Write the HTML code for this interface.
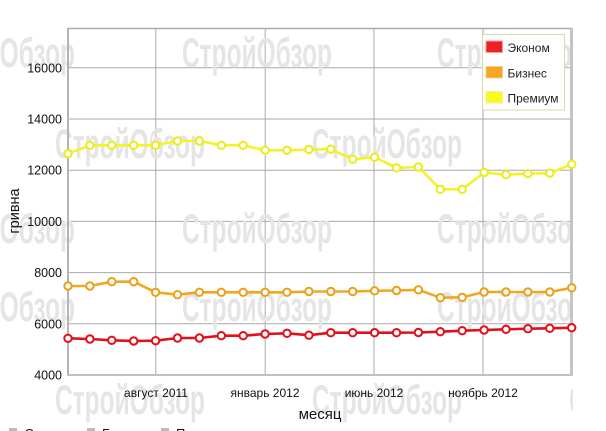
<!DOCTYPE html>
<html><head><meta charset="utf-8"><style>
html,body{margin:0;padding:0;background:#fff;width:606px;height:431px;overflow:hidden}
svg{display:block}
text{font-family:"Liberation Sans",Arial,sans-serif}
</style></head><body>
<svg width="606" height="431" viewBox="0 0 606 431" xmlns="http://www.w3.org/2000/svg">
<defs><clipPath id="wc"><rect x="0" y="0" width="573" height="431"/></clipPath></defs>
<rect width="606" height="431" fill="#fff"/>
<!-- grid -->
<g stroke="#aaaaaa" stroke-width="1">
<line x1="68" y1="323.8" x2="571" y2="323.8"/>
<line x1="68" y1="272.6" x2="571" y2="272.6"/>
<line x1="68" y1="221.4" x2="571" y2="221.4"/>
<line x1="68" y1="170.2" x2="571" y2="170.2"/>
<line x1="68" y1="119" x2="571" y2="119"/>
<line x1="68" y1="67.8" x2="571" y2="67.8"/>
<line x1="155.8" y1="28" x2="155.8" y2="375"/>
<line x1="265.2" y1="28" x2="265.2" y2="375"/>
<line x1="374" y1="28" x2="374" y2="375"/>
<line x1="483" y1="28" x2="483" y2="375"/>
</g>
<!-- watermarks -->
<g clip-path="url(#wc)" fill="#e5e5e5" font-weight="bold" font-size="42">
<text x="-75" y="67" textLength="150" lengthAdjust="spacingAndGlyphs">СтройОбзор</text>
<text x="182" y="67" textLength="150" lengthAdjust="spacingAndGlyphs">СтройОбзор</text>
<text x="437" y="67" textLength="150" lengthAdjust="spacingAndGlyphs">СтройОбзор</text>
<text x="55" y="158" textLength="150" lengthAdjust="spacingAndGlyphs">СтройОбзор</text>
<text x="312" y="158" textLength="150" lengthAdjust="spacingAndGlyphs">СтройОбзор</text>
<text x="569" y="158" textLength="150" lengthAdjust="spacingAndGlyphs">СтройОбзор</text>
<text x="-75" y="243" textLength="150" lengthAdjust="spacingAndGlyphs">СтройОбзор</text>
<text x="182" y="243" textLength="150" lengthAdjust="spacingAndGlyphs">СтройОбзор</text>
<text x="437" y="243" textLength="150" lengthAdjust="spacingAndGlyphs">СтройОбзор</text>
<text x="-75" y="321" textLength="150" lengthAdjust="spacingAndGlyphs">СтройОбзор</text>
<text x="182" y="321" textLength="150" lengthAdjust="spacingAndGlyphs">СтройОбзор</text>
<text x="437" y="321" textLength="150" lengthAdjust="spacingAndGlyphs">СтройОбзор</text>
<text x="55" y="414" textLength="150" lengthAdjust="spacingAndGlyphs">СтройОбзор</text>
<text x="312" y="414" textLength="150" lengthAdjust="spacingAndGlyphs">СтройОбзор</text>
<text x="569" y="414" textLength="150" lengthAdjust="spacingAndGlyphs">СтройОбзор</text>
</g>
<!-- frame -->
<line x1="68" y1="28.5" x2="572" y2="28.5" stroke="#aaaaaa" stroke-width="1.5"/>
<line x1="68" y1="28" x2="68" y2="376" stroke="#b4b4b4" stroke-width="2"/>
<line x1="67" y1="375" x2="573" y2="375" stroke="#c0c0c0" stroke-width="2"/>
<line x1="571.5" y1="28" x2="571.5" y2="376" stroke="#c4c4c4" stroke-width="3"/>
<!-- y ticks -->
<g font-size="12.5" fill="#111" text-anchor="end">
<text x="62" y="379.5">4000</text>
<text x="62" y="328.3">6000</text>
<text x="62" y="277.1">8000</text>
<text x="62" y="225.9">10000</text>
<text x="62" y="174.7">12000</text>
<text x="62" y="123.5">14000</text>
<text x="62" y="72.3">16000</text>
</g>
<g font-size="12" fill="#111" text-anchor="middle">
<text x="156" y="397">август 2011</text>
<text x="265" y="397">январь 2012</text>
<text x="374" y="397">июнь 2012</text>
<text x="483" y="397">ноябрь 2012</text>
</g>
<text x="320" y="419" font-size="15" fill="#111" text-anchor="middle">месяц</text>
<text transform="translate(19,211) rotate(-90)" font-size="14.5" fill="#111" text-anchor="middle">гривна</text>
<!-- series -->
<g fill="none" stroke-width="2.6" stroke-linejoin="round">
<polyline stroke="#f3f32a" points="68,153.7 89.9,145.3 111.8,145.3 133.7,145.3 155.6,145.3 177.5,141 199.4,141 221.3,145.3 243.2,145.3 265.1,150.3 287,150.3 308.9,149.5 330.8,149.2 352.7,159.3 374.6,157.2 396.5,167.8 418.4,167 440.3,189.3 462.2,189.3 484.1,172.5 506,174.7 527.9,173.6 549.8,173.2 571.7,164.3"/>
<polyline stroke="#f0a820" points="68,286 89.9,286 111.8,281.7 133.7,281.7 155.6,292.3 177.5,294.7 199.4,292.3 221.3,292.3 243.2,292.3 265.1,292.3 287,292.3 308.9,291.5 330.8,291.5 352.7,291.5 374.6,290.8 396.5,290.5 418.4,289.8 440.3,297.7 462.2,297.3 484.1,292 506,292 527.9,292 549.8,292 571.7,287.8"/>
<polyline stroke="#e2101a" points="68,338.3 89.9,339 111.8,340.3 133.7,341 155.6,340.7 177.5,338 199.4,338 221.3,335.7 243.2,335.7 265.1,334 287,333.3 308.9,335.2 330.8,332.7 352.7,332.7 374.6,332.7 396.5,332.7 418.4,332.5 440.3,331.7 462.2,330.7 484.1,330 506,329.3 527.9,328.7 549.8,328.3 571.7,327.7"/>
</g>
<g fill="#fff" stroke-width="2" stroke="#ecec1c">
<circle cx="68" cy="153.7" r="3.7"/><circle cx="89.9" cy="145.3" r="3.7"/><circle cx="111.8" cy="145.3" r="3.7"/><circle cx="133.7" cy="145.3" r="3.7"/><circle cx="155.6" cy="145.3" r="3.7"/><circle cx="177.5" cy="141" r="3.7"/><circle cx="199.4" cy="141" r="3.7"/><circle cx="221.3" cy="145.3" r="3.7"/><circle cx="243.2" cy="145.3" r="3.7"/><circle cx="265.1" cy="150.3" r="3.7"/><circle cx="287" cy="150.3" r="3.7"/><circle cx="308.9" cy="149.5" r="3.7"/><circle cx="330.8" cy="149.2" r="3.7"/><circle cx="352.7" cy="159.3" r="3.7"/><circle cx="374.6" cy="157.2" r="3.7"/><circle cx="396.5" cy="167.8" r="3.7"/><circle cx="418.4" cy="167" r="3.7"/><circle cx="440.3" cy="189.3" r="3.7"/><circle cx="462.2" cy="189.3" r="3.7"/><circle cx="484.1" cy="172.5" r="3.7"/><circle cx="506" cy="174.7" r="3.7"/><circle cx="527.9" cy="173.6" r="3.7"/><circle cx="549.8" cy="173.2" r="3.7"/><circle cx="571.7" cy="164.3" r="3.7"/>
</g>
<g fill="#fff" stroke-width="2" stroke="#eca01a">
<circle cx="68" cy="286" r="3.7"/><circle cx="89.9" cy="286" r="3.7"/><circle cx="111.8" cy="281.7" r="3.7"/><circle cx="133.7" cy="281.7" r="3.7"/><circle cx="155.6" cy="292.3" r="3.7"/><circle cx="177.5" cy="294.7" r="3.7"/><circle cx="199.4" cy="292.3" r="3.7"/><circle cx="221.3" cy="292.3" r="3.7"/><circle cx="243.2" cy="292.3" r="3.7"/><circle cx="265.1" cy="292.3" r="3.7"/><circle cx="287" cy="292.3" r="3.7"/><circle cx="308.9" cy="291.5" r="3.7"/><circle cx="330.8" cy="291.5" r="3.7"/><circle cx="352.7" cy="291.5" r="3.7"/><circle cx="374.6" cy="290.8" r="3.7"/><circle cx="396.5" cy="290.5" r="3.7"/><circle cx="418.4" cy="289.8" r="3.7"/><circle cx="440.3" cy="297.7" r="3.7"/><circle cx="462.2" cy="297.3" r="3.7"/><circle cx="484.1" cy="292" r="3.7"/><circle cx="506" cy="292" r="3.7"/><circle cx="527.9" cy="292" r="3.7"/><circle cx="549.8" cy="292" r="3.7"/><circle cx="571.7" cy="287.8" r="3.7"/>
</g>
<g fill="#fff" stroke-width="2" stroke="#e0101a">
<circle cx="68" cy="338.3" r="3.7"/><circle cx="89.9" cy="339" r="3.7"/><circle cx="111.8" cy="340.3" r="3.7"/><circle cx="133.7" cy="341" r="3.7"/><circle cx="155.6" cy="340.7" r="3.7"/><circle cx="177.5" cy="338" r="3.7"/><circle cx="199.4" cy="338" r="3.7"/><circle cx="221.3" cy="335.7" r="3.7"/><circle cx="243.2" cy="335.7" r="3.7"/><circle cx="265.1" cy="334" r="3.7"/><circle cx="287" cy="333.3" r="3.7"/><circle cx="308.9" cy="335.2" r="3.7"/><circle cx="330.8" cy="332.7" r="3.7"/><circle cx="352.7" cy="332.7" r="3.7"/><circle cx="374.6" cy="332.7" r="3.7"/><circle cx="396.5" cy="332.7" r="3.7"/><circle cx="418.4" cy="332.5" r="3.7"/><circle cx="440.3" cy="331.7" r="3.7"/><circle cx="462.2" cy="330.7" r="3.7"/><circle cx="484.1" cy="330" r="3.7"/><circle cx="506" cy="329.3" r="3.7"/><circle cx="527.9" cy="328.7" r="3.7"/><circle cx="549.8" cy="328.3" r="3.7"/><circle cx="571.7" cy="327.7" r="3.7"/>
</g>
<!-- legend -->
<rect x="482.5" y="34.5" width="82" height="75.5" fill="#fff" stroke="#d8d8a8" stroke-width="1"/>
<rect x="486" y="41" width="16.5" height="11.5" fill="#ee2026" stroke="#f4a0a0" stroke-width="1"/>
<rect x="486" y="66.5" width="16.5" height="11.5" fill="#f5a623" stroke="#f6cf90" stroke-width="1"/>
<rect x="486" y="91.5" width="16.5" height="11.5" fill="#fafa22" stroke="#f0f0a0" stroke-width="1"/>
<g font-size="12" fill="#222">
<text x="507.5" y="52">Эконом</text>
<text x="507.5" y="77.5">Бизнес</text>
<text x="507.5" y="102.5">Премиум</text>
</g>
<!-- bottom legend (cut off) -->
<g fill="#bbbbbb">
<rect x="9" y="428" width="8" height="6"/>
<rect x="87" y="428" width="8" height="6"/>
<rect x="161" y="428" width="8" height="6"/>
</g>
<g font-size="13" fill="#111">
<text x="25" y="438">Эконом</text>
<text x="102" y="438">Бизнес</text>
<text x="176" y="438">Премиум</text>
</g>
</svg>
</body></html>
